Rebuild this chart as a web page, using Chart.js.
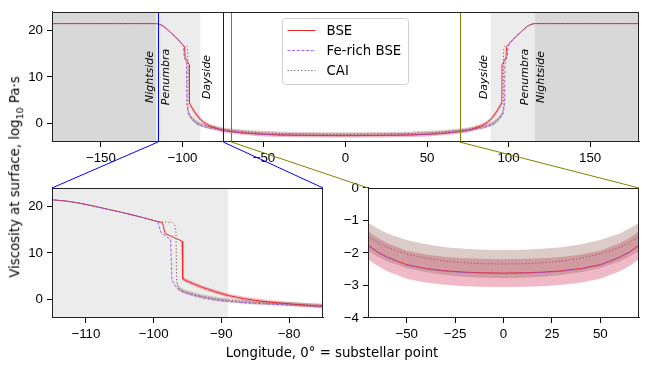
<!DOCTYPE html>
<html>
<head>
<meta charset="utf-8">
<script src="https://cdn.jsdelivr.net/npm/chart.js@4.4.0/dist/chart.umd.min.js"></script>
<style>
  body { margin: 0; background: #fff; }
  #wrap { position: relative; width: 649px; height: 370px; font-family: 'DejaVu Sans', sans-serif; color: #000; }
  canvas { position: absolute; }
  #ylab { position: absolute; left: 16px; top: 177px; transform: translate(-50%, -50%) rotate(-90deg); white-space: nowrap; font-size: 13.3px; }
  #ylab sub { font-size: 9.5px; }
  #xlab { position: absolute; left: 332px; top: 352px; transform: translate(-50%, -50%); white-space: nowrap; font-size: 13.3px; }
</style>
</head>
<body>
<div id="wrap">
  <canvas id="topChart" width="649" height="170" style="left:0;top:0"></canvas>
  <canvas id="zoomLeft" width="330" height="170" style="left:0;top:176px"></canvas>
  <canvas id="zoomRight" width="319" height="170" style="left:330px;top:176px"></canvas>
  <canvas id="links" width="649" height="370" style="left:0;top:0;pointer-events:none"></canvas>
  <div id="ylab">Viscosity at surface, log<sub>10</sub> Pa·s</div>
  <div id="xlab">Longitude, 0° = substellar point</div>
</div>
<script>
// surface viscosity (log10 Pa s) against longitude
const bseLonWest = [-180, -116, -115, -113, -111, -109, -107, -105, -103, -101, -99.4, -98.7, -98.3, -95.8, -95.7, -95, -94, -93, -92, -91, -90, -89, -87, -85, -83, -80, -77, -75, -70, -65, -60, -50, -40, -30, -20, -10, 0];
const bseValWest = [21.5, 21.5, 21.45, 21.2, 20.75, 20.15, 19.5, 18.85, 18.15, 17.4, 16.75, 16.5, 14.2, 12.55, 4.4, 3.9, 3.3, 2.7, 2.2, 1.7, 1.25, 0.85, 0.25, -0.2, -0.55, -0.95, -1.3, -1.5, -1.76, -1.97, -2.13, -2.36, -2.48, -2.55, -2.59, -2.61, -2.62];
const bseLonEast = [10, 20, 30, 40, 50, 60, 65, 70, 75, 77, 80, 83, 85, 87, 89, 90, 91, 92, 93, 94, 95, 95.9, 96.0, 98.4, 98.8, 99.5, 101, 103, 105, 107, 109, 111, 113, 115, 116, 180];
const bseValEast = [-2.61, -2.59, -2.55, -2.48, -2.36, -2.13, -1.97, -1.76, -1.5, -1.3, -0.95, -0.55, -0.2, 0.25, 0.85, 1.25, 1.7, 2.2, 2.7, 3.3, 3.9, 4.4, 12.55, 14.2, 16.5, 16.75, 17.4, 18.15, 18.85, 19.5, 20.15, 20.75, 21.2, 21.45, 21.5, 21.5];

const feLonWest = [-180, -116, -115, -113, -111, -109, -107, -105, -103, -101, -99.4, -98.9, -97.5, -97.3, -96.8, -96.2, -95, -94, -93, -92, -91, -90, -89, -87, -85, -83, -80, -77, -75, -70, -65, -60, -50, -40, -30, -20, -10, 0];
const feValWest = [21.5, 21.5, 21.45, 21.2, 20.75, 20.15, 19.5, 18.85, 18.15, 17.4, 16.75, 14.4, 12.9, 4.2, 2.9, 1.9, 1.3, 0.85, 0.5, 0.2, -0.05, -0.25, -0.4, -0.65, -0.85, -1.0, -1.2, -1.4, -1.5, -1.77, -1.98, -2.14, -2.37, -2.49, -2.56, -2.6, -2.62, -2.63];
const feLonEast = [10, 20, 30, 40, 50, 60, 65, 70, 75, 77, 80, 83, 85, 87, 89, 90, 91, 92, 93, 94, 95, 96.4, 97.0, 97.6, 97.8, 99.2, 99.7, 101, 103, 105, 107, 109, 111, 113, 115, 116, 180];
const feValEast = [-2.62, -2.6, -2.56, -2.49, -2.37, -2.14, -1.98, -1.77, -1.5, -1.4, -1.2, -1.0, -0.85, -0.65, -0.4, -0.25, -0.05, 0.2, 0.5, 0.85, 1.3, 1.9, 2.9, 4.2, 12.9, 14.4, 16.75, 17.4, 18.15, 18.85, 19.5, 20.15, 20.75, 21.2, 21.45, 21.5, 21.5];

const caiLonWest = [-180, -116, -115, -113, -111, -109, -107, -105, -103, -101, -99.4, -97.3, -96.9, -96.7, -96.6, -96.3, -95.5, -94, -93, -92, -91, -90, -89, -87, -85, -83, -80, -77, -75, -70, -65, -60, -50, -40, -30, -20, -10, 0];
const caiValWest = [21.5, 21.5, 21.45, 21.2, 20.75, 20.15, 19.5, 18.85, 18.15, 17.4, 16.75, 16.6, 16.0, 14.5, 3.8, 2.4, 1.7, 1.05, 0.7, 0.4, 0.15, -0.05, -0.2, -0.45, -0.65, -0.8, -1.0, -1.2, -1.3, -1.5, -1.68, -1.83, -2.03, -2.16, -2.25, -2.3, -2.33, -2.34];
const caiLonEast = [10, 20, 30, 40, 50, 60, 65, 70, 75, 77, 80, 83, 85, 87, 89, 90, 91, 92, 93, 94, 95.5, 96.5, 96.8, 96.9, 97.1, 97.5, 99.5, 101, 103, 105, 107, 109, 111, 113, 115, 116, 180];
const caiValEast = [-2.33, -2.3, -2.25, -2.16, -2.03, -1.83, -1.68, -1.5, -1.3, -1.2, -1.0, -0.8, -0.65, -0.45, -0.2, -0.05, 0.15, 0.4, 0.7, 1.05, 1.7, 2.4, 3.8, 14.5, 16.0, 16.6, 16.75, 17.4, 18.15, 18.85, 19.5, 20.15, 20.75, 21.2, 21.45, 21.5, 21.5];

// uncertainty band on the molten (dayside) part
const bandSpread = 0.43;
const moltenBelow = 5;

// terminator zones (degrees from substellar point)
const dayEdge = 89;
const nightEdge = 116;

// zoom windows
const leftWindow = [-115, -75];
const rightWindow = [-70, 70];

const topXTicks = [-150, -100, -50, 0, 50, 100, 150];
const topYTicks = [0, 10, 20];
const leftXTicks = [-110, -100, -90, -80];
const rightXTicks = [-50, -25, 0, 25, 50];
const rightYTicks = [-4, -3, -2, -1, 0];

const regionLabels = ['Nightside', 'Penumbra', 'Dayside', 'Dayside', 'Penumbra', 'Nightside'];
const regionLabelLon = [-120, -110, -85, 85, 110, 120];
const regionLabelY = 10;

const NIGHT = 'rgb(216,216,216)';
const PENUMBRA = 'rgb(236,236,236)';

function toPoints(lons, vals) {
    return lons.map((x, i) => ({ x: x, y: vals[i] }));
}

function bandPoints(lons, vals, sign) {
    const pts = [];
    lons.forEach((x, i) => {
        if (vals[i] < moltenBelow) pts.push({ x: x, y: vals[i] + sign * bandSpread });
    });
    return pts;
}

function makeDatasets() {
    const bLon = bseLonWest.concat(bseLonEast), bVal = bseValWest.concat(bseValEast);
    const fLon = feLonWest.concat(feLonEast), fVal = feValWest.concat(feValEast);
    const cLon = caiLonWest.concat(caiLonEast), cVal = caiValWest.concat(caiValEast);
    return [
        { label: 'BSE', data: toPoints(bLon, bVal), borderColor: 'rgb(240,40,40)', borderWidth: 1, fill: false, order: 3 },
        { label: 'Fe-rich BSE', data: toPoints(fLon, fVal), borderColor: 'rgb(145,85,225)', borderWidth: 0.9, borderDash: [3, 1.6], fill: false, order: 1 },
        { label: 'CAI', data: toPoints(cLon, cVal), borderColor: 'rgb(130,85,80)', borderWidth: 1, borderDash: [1.2, 2.2], fill: false, order: 2 },
        // bands: upper fills down to lower
        { data: bandPoints(bLon, bVal, 1), fill: 4, backgroundColor: 'rgba(220,50,80,0.32)', borderWidth: 0, borderColor: 'transparent', order: 12 },
        { data: bandPoints(bLon, bVal, -1), fill: false, borderWidth: 0, borderColor: 'transparent', order: 12 },
        { data: bandPoints(fLon, fVal, 1), fill: 6, backgroundColor: 'rgba(148,103,189,0.05)', borderWidth: 0, borderColor: 'transparent', order: 11 },
        { data: bandPoints(fLon, fVal, -1), fill: false, borderWidth: 0, borderColor: 'transparent', order: 11 },
        { data: bandPoints(cLon, cVal, 1), fill: 8, backgroundColor: 'rgba(140,86,75,0.3)', borderWidth: 0, borderColor: 'transparent', order: 10 },
        { data: bandPoints(cLon, cVal, -1), fill: false, borderWidth: 0, borderColor: 'transparent', order: 10 }
    ];
}

function fmt(v) {
    return String(v).replace('-', '\u2212');
}

function makeOptions(xr, xTicks, yr, yTicks, yWidth, pad) {
    return {
        responsive: false,
        animation: false,
        devicePixelRatio: 1,
        layout: { padding: pad },
        plugins: { legend: { display: false }, tooltip: { enabled: false } },
        elements: { point: { radius: 0 }, line: { tension: 0 } },
        scales: {
            x: {
                type: 'linear', min: xr[0], max: xr[1],
                afterBuildTicks: s => { s.ticks = xTicks.map(v => ({ value: v })); },
                afterFit: s => { s.height = 28; },
                grid: { drawOnChartArea: false, drawTicks: true, tickLength: 5, color: '#000' },
                border: { color: '#222', width: 1 },
                ticks: { color: '#000', padding: 3, maxRotation: 0, autoSkip: false, callback: fmt, font: { size: 13.3 } }
            },
            y: {
                type: 'linear', min: yr[0], max: yr[1],
                afterBuildTicks: s => { s.ticks = yTicks.map(v => ({ value: v })); },
                afterFit: s => { s.width = yWidth; },
                grid: { drawOnChartArea: false, drawTicks: true, tickLength: 5, color: '#000' },
                border: { color: '#222', width: 1 },
                ticks: { color: '#000', padding: 4, autoSkip: false, callback: fmt, font: { size: 13.3 } }
            }
        }
    };
}

function shadePlugin(regions) {
    return {
        id: 'shade',
        beforeDatasetsDraw(chart) {
            const { ctx, chartArea: a, scales: { x } } = chart;
            ctx.save();
            ctx.beginPath();
            ctx.rect(a.left, a.top, a.width, a.height);
            ctx.clip();
            regions.forEach(r => {
                const x0 = x.getPixelForValue(r[0]), x1 = x.getPixelForValue(r[1]);
                ctx.fillStyle = r[2];
                ctx.fillRect(x0, a.top, x1 - x0, a.height);
            });
            ctx.restore();
        }
    };
}

const framePlugin = {
    id: 'frame',
    afterDraw(chart) {
        const { ctx, chartArea: a } = chart;
        ctx.save();
        ctx.strokeStyle = '#222';
        ctx.lineWidth = 1;
        ctx.strokeRect(Math.round(a.left) + 0.5, Math.round(a.top) + 0.5, Math.round(a.width) - 1, Math.round(a.height) - 1);
        ctx.restore();
    }
};

// zoom window markers, zone names and legend on the overview panel
const overviewPlugin = {
    id: 'overview',
    afterDatasetsDraw(chart) {
        const { ctx, chartArea: a, scales: { x, y } } = chart;
        ctx.save();
        ctx.lineWidth = 1;
        [[leftWindow[0], '#0000ff'], [leftWindow[1], '#0000ff'], [rightWindow[0], '#808000'], [rightWindow[1], '#808000']].forEach(m => {
            const px = Math.round(x.getPixelForValue(m[0])) + 0.5;
            ctx.strokeStyle = m[1];
            ctx.beginPath();
            ctx.moveTo(px, a.top);
            ctx.lineTo(px, a.bottom);
            ctx.stroke();
        });
        ctx.fillStyle = '#000';
        ctx.font = 'italic 11px "DejaVu Sans"';
        ctx.textAlign = 'center';
        ctx.textBaseline = 'middle';
        regionLabels.forEach((t, i) => {
            ctx.save();
            ctx.translate(x.getPixelForValue(regionLabelLon[i]), y.getPixelForValue(regionLabelY));
            ctx.rotate(-Math.PI / 2);
            ctx.fillText(t, 0, 0);
            ctx.restore();
        });
        ctx.restore();
    },
    afterDraw(chart) {
        const { ctx, chartArea: a } = chart;
        const bx = a.left + 230.5, by = a.top + 6.5, bw = 126, bh = 66, r = 3;
        ctx.save();
        ctx.beginPath();
        ctx.moveTo(bx + r, by);
        ctx.lineTo(bx + bw - r, by);
        ctx.arcTo(bx + bw, by, bx + bw, by + r, r);
        ctx.lineTo(bx + bw, by + bh - r);
        ctx.arcTo(bx + bw, by + bh, bx + bw - r, by + bh, r);
        ctx.lineTo(bx + r, by + bh);
        ctx.arcTo(bx, by + bh, bx, by + bh - r, r);
        ctx.lineTo(bx, by + r);
        ctx.arcTo(bx, by, bx + r, by, r);
        ctx.closePath();
        ctx.fillStyle = 'rgba(255,255,255,0.8)';
        ctx.fill();
        ctx.strokeStyle = '#d0d0d0';
        ctx.lineWidth = 1;
        ctx.stroke();
        ctx.font = '13.3px "DejaVu Sans"';
        ctx.textAlign = 'left';
        ctx.textBaseline = 'middle';
        chart.data.datasets.slice(0, 3).forEach((d, i) => {
            const ry = Math.round(by + 12 + i * 20) + 0.5;
            ctx.strokeStyle = d.borderColor;
            ctx.lineWidth = d.borderWidth;
            ctx.setLineDash(d.borderDash || []);
            ctx.beginPath();
            ctx.moveTo(bx + 5, ry);
            ctx.lineTo(bx + 33, ry);
            ctx.stroke();
            ctx.setLineDash([]);
            ctx.fillStyle = '#000';
            ctx.fillText(d.label, bx + 44, ry + 1);
        });
        ctx.restore();
    }
};

const overview = new Chart(document.getElementById('topChart').getContext('2d'), {
    type: 'line',
    data: { datasets: makeDatasets() },
    options: makeOptions([-180, 180], topXTicks, [-4, 24], topYTicks, 52, { top: 10, right: 10, left: 0, bottom: 0 }),
    plugins: [shadePlugin([[-180, -nightEdge, NIGHT], [-nightEdge, -dayEdge, PENUMBRA], [dayEdge, nightEdge, PENUMBRA], [nightEdge, 180, NIGHT]]), framePlugin, overviewPlugin]
});

const zoomLeft = new Chart(document.getElementById('zoomLeft').getContext('2d'), {
    type: 'line',
    data: { datasets: makeDatasets() },
    options: makeOptions(leftWindow, leftXTicks, [-4, 24], topYTicks, 52, { top: 10, right: 7, left: 0, bottom: 0 }),
    plugins: [shadePlugin([[-180, -nightEdge, NIGHT], [-nightEdge, -dayEdge, PENUMBRA]]), framePlugin]
});

const zoomRight = new Chart(document.getElementById('zoomRight').getContext('2d'), {
    type: 'line',
    data: { datasets: makeDatasets() },
    options: makeOptions(rightWindow, rightXTicks, [-4, 0], rightYTicks, 38, { top: 10, right: 10, left: 0, bottom: 0 }),
    plugins: [framePlugin]
});

// connector lines from the overview to the zoom panels
(function drawLinks() {
    const ctx = document.getElementById('links').getContext('2d');
    const xs = overview.scales.x, base = overview.chartArea.bottom;
    const la = zoomLeft.chartArea, ra = zoomRight.chartArea;
    const links = [
        [leftWindow[0], la.left, la.top + 176, '#0000ff'],
        [leftWindow[1], la.right, la.top + 176, '#0000ff'],
        [rightWindow[0], ra.left + 330, ra.top + 176, '#808000'],
        [rightWindow[1], ra.right + 330, ra.top + 176, '#808000']
    ];
    ctx.lineWidth = 1;
    links.forEach(l => {
        ctx.strokeStyle = l[3];
        ctx.beginPath();
        ctx.moveTo(xs.getPixelForValue(l[0]), base);
        ctx.lineTo(l[1], l[2]);
        ctx.stroke();
    });
})();
</script>
</body>
</html>
